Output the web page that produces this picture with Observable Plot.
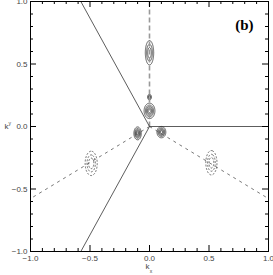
<!DOCTYPE html>
<html>
<head>
<meta charset="utf-8">
<script src="https://cdn.jsdelivr.net/npm/d3@7"></script>
<script src="https://cdn.jsdelivr.net/npm/@observablehq/plot@0.6"></script>
<style>
html,body{margin:0;padding:0;background:#fff;}
</style>
</head>
<body>
<div id="chart"></div>
<script>
// Tick values and labels
const majorTicks = [-1, -0.5, 0, 0.5, 1];
const minorTicks = [-0.9, -0.8, -0.7, -0.6, -0.4, -0.3, -0.2, -0.1, 0.1, 0.2, 0.3, 0.4, 0.6, 0.7, 0.8, 0.9];
const tickLabels = ["\u22121.0", "\u22120.5", "0.0", "0.5", "1.0"];

// Boundary lines (solid) and symmetry lines (dashed)
const solidLines = [
  {x1: 0, y1: 0, x2: -0.577, y2: 1},
  {x1: 0, y1: 0, x2: 1, y2: 0},
  {x1: 0, y1: 0, x2: -0.577, y2: -1}
];
const grayDashLines = [
  {x1: 0, y1: 0, x2: 0, y2: 1}
];
const darkDashLines = [
  {x1: 0, y1: 0, x2: -1, y2: -0.577},
  {x1: 0, y1: 0, x2: 1, y2: -0.577}
];

// Contour peaks: center and width
const solidPeaks = [
  {cx: 0, cy: 0.59, sx: 0.018, sy: 0.05},
  {cx: 0, cy: 0.235, sx: 0.008, sy: 0.012}
];
const densePeaks = [
  {cx: 0, cy: 0.125, sx: 0.022, sy: 0.03},
  {cx: -0.1, cy: -0.055, sx: 0.015, sy: 0.025},
  {cx: 0.1, cy: -0.045, sx: 0.018, sy: 0.022}
];
const dashedPeaks = [
  {cx: -0.49, cy: -0.295, sx: 0.026, sy: 0.05},
  {cx: 0.52, cy: -0.29, sx: 0.024, sy: 0.05}
];
const contourLevels = [0.15, 0.4, 0.7];
const denseLevels = [0.12, 0.3, 0.5, 0.7, 0.88];

function field(peaks) {
  return (x, y) => {
    let v = 0;
    for (const p of peaks) {
      const dx = (x - p.cx) / p.sx, dy = (y - p.cy) / p.sy;
      v += Math.exp(-0.5 * (dx * dx + dy * dy));
    }
    return v;
  };
}

const innerW = 238, innerH = 250;

const chart = Plot.plot({
  width: 273,
  height: 275,
  marginLeft: 30,
  marginRight: 5,
  marginTop: 1,
  marginBottom: 24,
  x: {domain: [-1, 1], axis: null},
  y: {domain: [-1, 1], axis: null},
  style: {background: "#fff", fontFamily: "Liberation Sans, sans-serif"},
  marks: [
    // contours
    Plot.contour({x1: -1, x2: 1, y1: -1, y2: 1, value: field(solidPeaks), thresholds: contourLevels,
      pixelSize: 0.5, fill: "none", stroke: "#333", strokeWidth: 0.8}),
    Plot.contour({x1: -1, x2: 1, y1: -1, y2: 1, value: field(densePeaks), thresholds: denseLevels,
      pixelSize: 0.5, fill: "none", stroke: "#333", strokeWidth: 0.8}),
    Plot.contour({x1: -1, x2: 1, y1: -1, y2: 1, value: field(dashedPeaks), thresholds: contourLevels,
      pixelSize: 0.5, fill: "none", stroke: "#444", strokeWidth: 0.8, strokeDasharray: "2,1.5"}),
    // lines
    Plot.link(grayDashLines, {x1: "x1", y1: "y1", x2: "x2", y2: "y2", stroke: "#999", strokeWidth: 1.6, strokeDasharray: "5,3"}),
    Plot.link(darkDashLines, {x1: "x1", y1: "y1", x2: "x2", y2: "y2", stroke: "#555", strokeWidth: 0.8, strokeDasharray: "3,4"}),
    Plot.link(solidLines, {x1: "x1", y1: "y1", x2: "x2", y2: "y2", stroke: "#333", strokeWidth: 0.8}),
    // frame
    Plot.frame({stroke: "#000", strokeWidth: 1}),
    // ticks, inward on all four sides
    Plot.ruleX(majorTicks, {x: d => d, insetTop: innerH - 6, stroke: "#000"}),
    Plot.ruleX(minorTicks, {x: d => d, insetTop: innerH - 3, stroke: "#000"}),
    Plot.ruleX(majorTicks, {x: d => d, insetBottom: innerH - 6, stroke: "#000"}),
    Plot.ruleX(minorTicks, {x: d => d, insetBottom: innerH - 3, stroke: "#000"}),
    Plot.ruleY(majorTicks, {y: d => d, insetRight: innerW - 6, stroke: "#000"}),
    Plot.ruleY(minorTicks, {y: d => d, insetRight: innerW - 3, stroke: "#000"}),
    Plot.ruleY(majorTicks, {y: d => d, insetLeft: innerW - 6, stroke: "#000"}),
    Plot.ruleY(minorTicks, {y: d => d, insetLeft: innerW - 3, stroke: "#000"}),
    // tick labels
    Plot.text(majorTicks, {x: d => d, text: (d, i) => tickLabels[i], frameAnchor: "bottom", dy: 9,
      fontSize: 8, fill: "#444"}),
    Plot.text(majorTicks, {y: d => d, text: (d, i) => tickLabels[i], frameAnchor: "left", dx: -3,
      textAnchor: "end", fontSize: 8, fill: "#444"}),
    // axis labels
    Plot.text(["k"], {x: [0], frameAnchor: "bottom", dx: -2, dy: 17, fontSize: 8, fill: "#444"}),
    Plot.text(["x"], {x: [0], frameAnchor: "bottom", dx: 1.5, dy: 21, fontSize: 5, fill: "#444"}),
    Plot.text(["k"], {y: [0], frameAnchor: "left", dx: -26, fontSize: 8, fill: "#444"}),
    Plot.text(["y"], {y: [0], frameAnchor: "left", dx: -22, dy: -3, fontSize: 5, fill: "#444"}),
    // panel label
    Plot.text(["(b)"], {frameAnchor: "top-right", dx: -15, dy: 18, textAnchor: "end",
      fontSize: 15, fontWeight: "bold", fontFamily: "Liberation Serif, serif", fill: "#000"})
  ]
});
document.getElementById("chart").appendChild(chart);
</script>
</body>
</html>
